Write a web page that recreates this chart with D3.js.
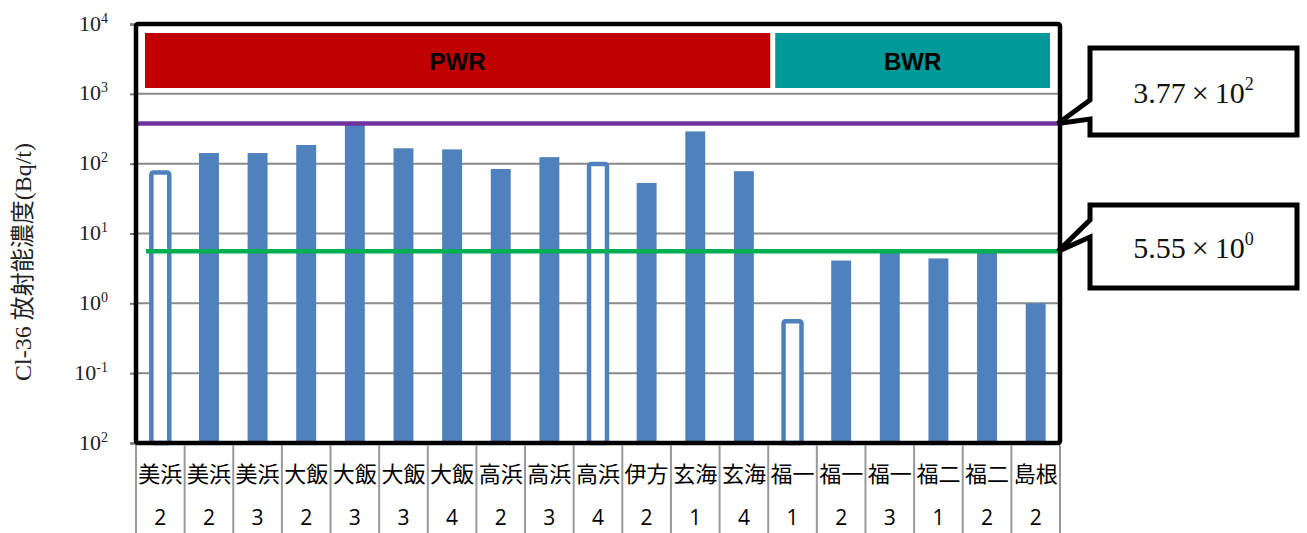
<!DOCTYPE html>
<html>
<head>
<meta charset="utf-8">
<script src="https://cdn.jsdelivr.net/npm/d3@7"></script>
<style>
  body { margin: 0; background: #fff; }
  svg { display: block; }
</style>
</head>
<body>
<div id="mycontent"></div>
<script>
// данные графика
var categories = ["美浜", "美浜", "美浜", "大飯", "大飯", "大飯", "大飯", "高浜", "高浜", "高浜",
                  "伊方", "玄海", "玄海", "福一", "福一", "福一", "福二", "福二", "島根"];
var units = ["2", "2", "3", "2", "3", "3", "4", "2", "3", "4", "2", "1", "4", "1", "2", "3", "1", "2", "2"];
var values = [80, 142, 142, 185, 370, 166, 160, 84, 124, 106, 53, 290, 78, 0.59, 4.1, 5.3, 4.4, 5.3, 1.0];
var hollow = [true, false, false, false, false, false, false, false, false, true,
              false, false, false, true, false, false, false, false, false];
var groups = ["PWR", "BWR"];
var groupSizes = [13, 6];
var limits = [377, 5.55];
var limitMant = ["3.77", "5.55"];
var limitExp = ["2", "0"];
var tickValues = [1e-2, 1e-1, 1, 10, 100, 1000, 10000];
var tickExp = ["2", "-1", "0", "1", "2", "3", "4"];

var margin = { top: 24, right: 247, bottom: 90, left: 136 }
    , width = 1307 - margin.left - margin.right
    , height = 533 - margin.top - margin.bottom;

var svg = d3.select("#mycontent").append("svg")
    .attr("width", 1307)
    .attr("height", 533);

var g = svg.append("g")
    .attr("transform", "translate(" + margin.left + "," + margin.top + ")");

var x = d3.scaleBand()
    .domain(d3.range(categories.length))
    .range([0, width])
    .paddingInner(0.59)
    .paddingOuter(0.295);
var step = x.step();

var y = d3.scaleLog()
    .domain([1e-2, 1e4])
    .range([height, 0]);

// сетка
g.append("g").selectAll("line")
    .data(tickValues.slice(1, -1))
    .enter().append("line")
    .attr("x1", 0).attr("x2", width)
    .attr("y1", function (d) { return y(d); })
    .attr("y2", function (d) { return y(d); })
    .attr("stroke", "#8a8a8a")
    .attr("stroke-width", 2);

// ось Y
var yAxis = g.append("g")
    .call(d3.axisLeft(y).tickValues(tickValues).tickSize(6).tickFormat(""));
yAxis.selectAll("line").attr("stroke", "#777").attr("stroke-width", 2);
yAxis.select(".domain").attr("stroke", "#555").attr("stroke-width", 2);
yAxis.selectAll(".tick").append("text")
    .attr("x", -28)
    .attr("y", 6)
    .attr("text-anchor", "end")
    .attr("fill", "#222")
    .style("font-family", "'Liberation Serif', serif")
    .style("font-size", "22px")
    .each(function (d, i) {
        var t = d3.select(this);
        t.append("tspan").text("10");
        t.append("tspan").attr("dy", -8).style("font-size", "14px").text(tickExp[i]);
    });

// заголовок оси Y
svg.append("text")
    .attr("transform", "translate(31,262) rotate(-90)")
    .attr("text-anchor", "middle")
    .attr("fill", "#222")
    .style("font-family", "'Liberation Serif', 'Noto Sans CJK JP', serif")
    .style("font-size", "24px")
    .text("Cl-36 放射能濃度(Bq/t)");

// группы PWR / BWR
var start = 0;
groups.forEach(function (name, gi) {
    var x0 = start * step, x1 = (start + groupSizes[gi]) * step;
    var left = x0 + (gi === 0 ? 9 : 7);
    var right = x1 + (gi === groups.length - 1 ? -10 : 2);
    g.append("rect")
        .attr("x", left).attr("y", 9)
        .attr("width", right - left).attr("height", 55)
        .attr("fill", gi === 0 ? "#C00000" : "#009999");
    g.append("text")
        .attr("x", (left + right) / 2).attr("y", 46)
        .attr("text-anchor", "middle")
        .style("font-family", "'Liberation Sans', Arial, sans-serif")
        .style("font-weight", "bold")
        .style("font-size", "24px")
        .text(name);
    start += groupSizes[gi];
});

// столбцы
g.append("g").selectAll("rect")
    .data(values)
    .enter().append("rect")
    .attr("x", function (d, i) { return x(i) + (hollow[i] ? 1 : 0); })
    .attr("y", function (d, i) { return y(d) + (hollow[i] ? 2 : 0); })
    .attr("width", function (d, i) { return x.bandwidth() - (hollow[i] ? 2 : 0); })
    .attr("height", function (d, i) { return height - y(d) - (hollow[i] ? 2 : 0); })
    .attr("rx", function (d, i) { return hollow[i] ? 2 : 0; })
    .attr("fill", function (d, i) { return hollow[i] ? "#fff" : "#4F81BD"; })
    .attr("stroke", function (d, i) { return hollow[i] ? "#4F81BD" : "none"; })
    .attr("stroke-width", 4.5);

// линии пределов
var limitColors = ["#7030A0", "#00B050"];
limits.forEach(function (v, li) {
    g.append("line")
        .attr("x1", li === 0 ? 0 : 10).attr("x2", width)
        .attr("y1", y(v)).attr("y2", y(v))
        .attr("stroke", limitColors[li])
        .attr("stroke-width", 4.5);
});

// рамка
g.append("rect")
    .attr("x", 0).attr("y", 0)
    .attr("width", width).attr("height", height)
    .attr("rx", 2)
    .attr("fill", "none")
    .attr("stroke", "#000")
    .attr("stroke-width", 4.5);

// таблица подписей снизу
g.append("g").selectAll("line")
    .data(d3.range(categories.length + 1))
    .enter().append("line")
    .attr("x1", function (d) { return d * step; })
    .attr("x2", function (d) { return d * step; })
    .attr("y1", height + 2).attr("y2", height + margin.bottom)
    .attr("stroke", "#999")
    .attr("stroke-width", 2);

var labels = g.append("g")
    .attr("fill", "#000")
    .style("font-family", "'Noto Sans CJK JP', sans-serif")
    .attr("text-anchor", "middle");
labels.selectAll("text.cat")
    .data(categories)
    .enter().append("text")
    .attr("class", "cat")
    .attr("x", function (d, i) { return x(i) + x.bandwidth() / 2; })
    .attr("y", height + 39)
    .style("font-size", "22px")
    .text(function (d) { return d; });
labels.selectAll("text.unit")
    .data(units)
    .enter().append("text")
    .attr("class", "unit")
    .attr("x", function (d, i) { return x(i) + x.bandwidth() / 2; })
    .attr("y", height + 82)
    .style("font-family", "'Open Sans', 'Noto Sans', sans-serif")
    .style("font-size", "21px")
    .text(function (d) { return d; });

// выноски
var boxes = [{ top: 48, bottom: 135, a: 100, b: 119 }, { top: 205, bottom: 288, a: 220, b: 237 }];
var bx0 = 1090, bx1 = 1297;
boxes.forEach(function (b, li) {
    var tx = margin.left + width - 2, ty = margin.top + y(limits[li]);
    var path = d3.path();
    path.moveTo(bx0, b.top);
    path.lineTo(bx1, b.top);
    path.lineTo(bx1, b.bottom);
    path.lineTo(bx0, b.bottom);
    path.lineTo(bx0, b.b);
    path.lineTo(tx, ty);
    path.lineTo(bx0, b.a);
    path.closePath();
    svg.append("path")
        .attr("d", path.toString())
        .attr("fill", "#fff")
        .attr("stroke", "#000")
        .attr("stroke-width", 5)
        .attr("stroke-linejoin", "miter");
    var t = svg.append("text")
        .attr("x", (bx0 + bx1) / 2)
        .attr("y", (b.top + b.bottom) / 2 + 11)
        .attr("text-anchor", "middle")
        .attr("fill", "#111")
        .style("font-family", "'Liberation Serif', serif")
        .style("font-size", "30px");
    t.append("tspan").text(limitMant[li] + "\u2009×\u200910");
    t.append("tspan").attr("dy", -13).style("font-size", "18px").text(limitExp[li]);
});
</script>
</body>
</html>
